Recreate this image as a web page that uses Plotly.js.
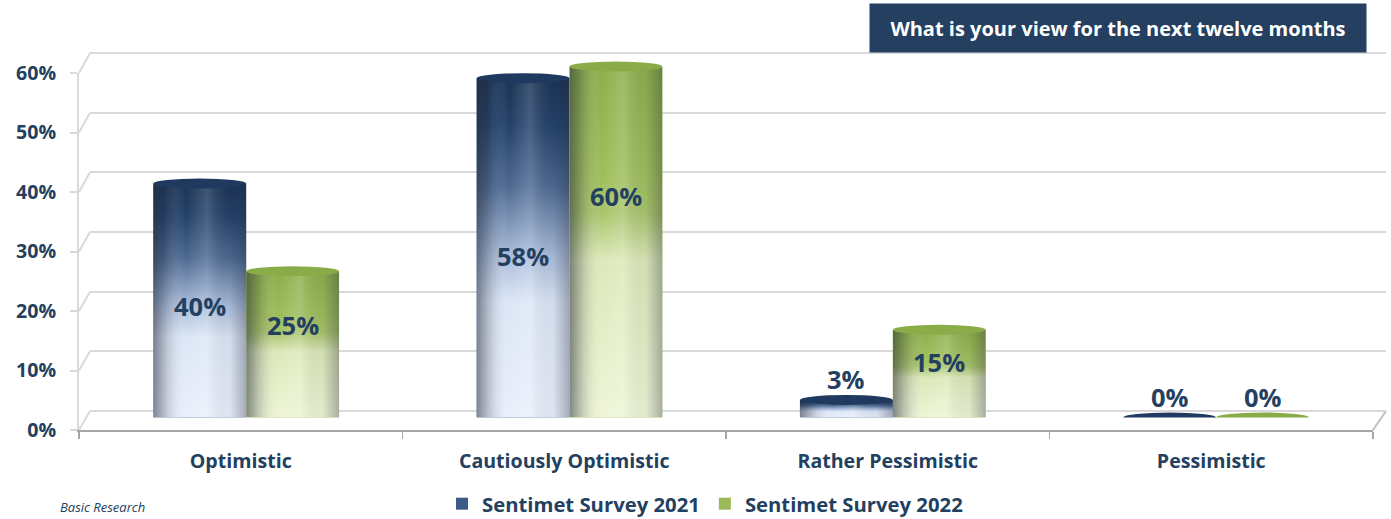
<!DOCTYPE html>
<html>
<head>
<meta charset="utf-8">
<script src="https://cdn.plot.ly/plotly-3.0.1.min.js"></script>
<style>
  html, body { margin: 0; padding: 0; background: #ffffff; }
  #chart { width: 1391px; height: 519px; }
</style>
</head>
<body>
<div id="chart"></div>
<script>
// ---------------- data ----------------
const categories = ['Optimistic', 'Cautiously Optimistic', 'Rather Pessimistic', 'Pessimistic'];
const survey2021 = [40, 58, 3, 0];
const survey2022 = [25, 60, 15, 0];
const seriesNames = ['Sentimet Survey 2021', 'Sentimet Survey 2022'];
const yTickValues = [0, 10, 20, 30, 40, 50, 60];
const chartTitle = 'What is your view for the next twelve months';
const sourceNote = 'Basic Research';

// ---------------- styling ----------------
const W = 1391, H = 519;
const px = x => x / W;            // pixel -> paper x
const py = y => (H - y) / H;      // pixel -> paper y
const NAVY = '#243F60';
const FONT = '"Open Sans", "Noto Sans", sans-serif';
const GRID = '#D9D9D9';
const BAR_W = 0.2873;
const offsets = [-BAR_W, 0];
const labelFrac = [0.475, 0.63];
const legendColors = ['#3B5A85', '#9BBB59'];
const capColors = ['#1F3A5E', '#8AAC48'];
const baseColors = ['#D3DDEE', '#DCE7BC'];

function cylinderSvg(vStops) {
  const v = vStops.map(s => `<stop offset="${s[0]}" stop-color="${s[1]}"/>`).join('');
  const svg = `<svg xmlns="http://www.w3.org/2000/svg" width="100" height="100" viewBox="0 0 100 100" preserveAspectRatio="none">
<defs>
<linearGradient id="v" x1="0" y1="0" x2="0" y2="1">${v}</linearGradient>
<linearGradient id="h" x1="0" y1="0" x2="1" y2="0">
<stop offset="0" stop-color="#282d3c" stop-opacity="0.55"/>
<stop offset="0.12" stop-color="#282d3c" stop-opacity="0.25"/>
<stop offset="0.35" stop-color="#ffffff" stop-opacity="0"/>
<stop offset="0.58" stop-color="#ffffff" stop-opacity="0.16"/>
<stop offset="0.82" stop-color="#282d3c" stop-opacity="0.05"/>
<stop offset="1" stop-color="#282d3c" stop-opacity="0.35"/>
</linearGradient>
</defs>
<rect x="0" y="0" width="100" height="100" fill="url(#v)"/>
<rect x="0" y="0" width="100" height="100" fill="url(#h)"/>
</svg>`;
  return 'data:image/svg+xml;utf8,' + encodeURIComponent(svg);
}
const cylSources = [
  cylinderSvg([[0, '#1A3355'], [0.14, '#23416A'], [0.32, '#4D6A92'], [0.52, '#A9BCDA'], [0.66, '#DCE6F6'], [1, '#E9EFFB']]),
  cylinderSvg([[0, '#8CAE4A'], [0.3, '#9DBD5A'], [0.42, '#A9C56C'], [0.55, '#DCE8B8'], [1, '#EEF5D6']])
];

const seriesValues = [survey2021, survey2022];

// ---------------- traces ----------------
const traces = [];
// grid subplot (back wall)
traces.push({ type: 'scatter', x: [], y: [], xaxis: 'x', yaxis: 'y', showlegend: false, hoverinfo: 'skip' });
// bars
seriesValues.forEach((vals, s) => {
  traces.push({
    type: 'bar',
    name: seriesNames[s],
    x: categories,
    y: vals.map(v => v / 100),
    xaxis: 'x2', yaxis: 'y2',
    width: BAR_W, offset: offsets[s],
    marker: { color: legendColors[s], line: { width: 0 } },
    hovertemplate: '%{x}: %{y:.0%}<extra>' + seriesNames[s] + '</extra>'
  });
});
// front axes subplot
traces.push({ type: 'scatter', mode: 'none', x: categories, y: categories.map(() => 0), xaxis: 'x3', yaxis: 'y3', showlegend: false, hoverinfo: 'skip' });

// ---------------- images, shapes, annotations ----------------
const images = [];
const shapes = [];
const annotations = [];

seriesValues.forEach((vals, s) => {
  vals.forEach((v, i) => {
    const x0 = i + offsets[s], x1 = x0 + BAR_W;
    if (v > 0) {
      images.push({
        source: cylSources[s], xref: 'x2', yref: 'y2',
        x: x0, y: v / 100, sizex: BAR_W, sizey: v / 100,
        xanchor: 'left', yanchor: 'top', sizing: 'stretch', layer: 'above'
      });
      shapes.push({
        type: 'circle', xref: 'x2', yref: 'y2', x0: x0, x1: x1,
        ysizemode: 'pixel', yanchor: 0, y0: -5, y1: 5,
        fillcolor: baseColors[s], line: { width: 0 }, layer: 'below'
      });
    }
    shapes.push({
      type: 'circle', xref: 'x2', yref: 'y2', x0: x0, x1: x1,
      ysizemode: 'pixel', yanchor: v / 100, y0: -5, y1: 5,
      fillcolor: capColors[s], line: { width: 0 }, layer: 'above'
    });
    const ly = v >= 5 ? v * labelFrac[s] : v + 3.5;
    annotations.push({
      xref: 'x2', yref: 'y2', x: x0 + BAR_W / 2, y: ly / 100,
      text: v + '%', showarrow: false, xanchor: 'center', yanchor: 'middle',
      font: { family: FONT, size: 25.5, color: NAVY, weight: 'bold' }
    });
  });
});

// 3-D wall edges: connect back grid lines to front tick marks
const backY0 = 411, backStep = 59.667;     // px of back-wall gridlines
const frontY0 = 430, frontStep = 59.5;     // px of front axis ticks
yTickValues.forEach(t => {
  const k = t / 10;
  shapes.push({
    type: 'line', xref: 'paper', yref: 'paper',
    x0: px(90), y0: py(backY0 - k * backStep), x1: px(79), y1: py(frontY0 - k * frontStep),
    line: { color: GRID, width: 2 }, layer: 'below'
  });
});
shapes.push({
  type: 'line', xref: 'paper', yref: 'paper',
  x0: px(1386), y0: py(backY0), x1: px(1373), y1: py(frontY0),
  line: { color: '#BFBFBF', width: 2 }, layer: 'below'
});

// title box
annotations.push({
  xref: 'paper', yref: 'paper', x: px(1118), y: py(28),
  xanchor: 'center', yanchor: 'middle', showarrow: false,
  text: chartTitle, width: 496, height: 48, bgcolor: NAVY, borderpad: 0,
  font: { family: FONT, size: 20, color: '#ffffff', weight: 'bold' }
});
// source note at the bottom-left edge
annotations.push({
  xref: 'paper', yref: 'paper', x: px(58), y: py(518),
  xanchor: 'left', yanchor: 'bottom', showarrow: false,
  text: sourceNote,
  font: { family: FONT, size: 13, color: NAVY, style: 'italic' }
});

const tickFont = { family: FONT, size: 19.6, color: NAVY, weight: 'bold' };

const layout = {
  width: W, height: H,
  margin: { l: 0, r: 0, t: 0, b: 0, pad: 0, autoexpand: false },
  paper_bgcolor: '#ffffff',
  plot_bgcolor: 'rgba(0,0,0,0)',
  showlegend: true,
  legend: {
    orientation: 'h', x: px(705), xanchor: 'center', y: py(504), yanchor: 'middle',
    font: { family: FONT, size: 20.3, color: NAVY, weight: 'bold' },
    bgcolor: 'rgba(0,0,0,0)', traceorder: 'normal'
  },
  // back wall gridlines
  xaxis: { domain: [px(90), px(1386)], range: [0, 1], visible: false, fixedrange: true },
  yaxis: {
    domain: [0.18510, 0.95537], range: [-0.02, 0.65], anchor: 'x',
    dtick: 0.1, tick0: 0, showgrid: true, gridcolor: GRID, gridwidth: 2,
    zeroline: false, showticklabels: false, ticks: '', showline: false, fixedrange: true
  },
  // bars
  xaxis2: { domain: [px(84.55), px(1377.75)], range: [-0.5, 3.5], type: 'category', anchor: 'y2', visible: false, fixedrange: true },
  yaxis2: { domain: [py(417.5), py(417.5) + 0.7 * (585 / H)], range: [0, 0.7], anchor: 'x2', visible: false, fixedrange: true },
  // front axes
  xaxis3: {
    domain: [px(79), px(1373)], range: [-0.5, 3.5], type: 'category',
    categoryorder: 'array', categoryarray: categories,
    anchor: 'y3', showline: true, linecolor: '#A6A6A6', linewidth: 2,
    ticks: 'outside', ticklen: 7, tickwidth: 1.5, tickcolor: '#A6A6A6', tickson: 'boundaries',
    showgrid: false, zeroline: false, tickfont: tickFont, ticklabelstandoff: 12, fixedrange: true
  },
  yaxis3: {
    domain: [py(430), py(73)], range: [0, 0.6], anchor: 'x3',
    tickvals: yTickValues.map(t => t / 100), ticktext: yTickValues.map(t => t + '%'),
    showline: true, linecolor: GRID, linewidth: 2,
    ticks: 'outside', ticklen: 7, tickwidth: 2, tickcolor: GRID,
    showgrid: false, zeroline: false, tickfont: tickFont, ticklabelstandoff: 10, fixedrange: true
  },
  images: images,
  shapes: shapes,
  annotations: annotations
};

Plotly.newPlot('chart', traces, layout, { displayModeBar: false, staticPlot: true });
</script>
</body>
</html>
